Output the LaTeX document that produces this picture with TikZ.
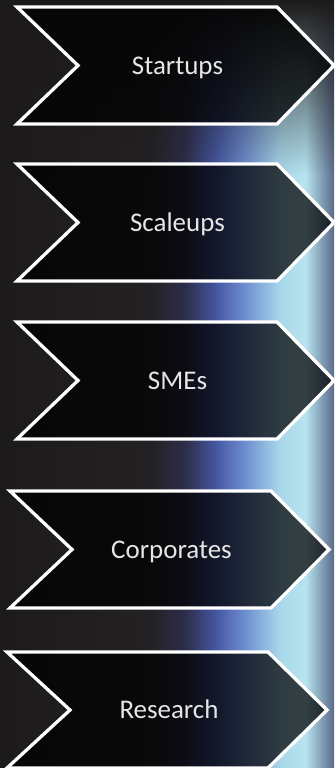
\documentclass[tikz,border=0pt]{standalone}
\usepackage{fontspec}
\setmainfont{Carlito}
\usepackage{tikz}
\usetikzlibrary{fadings}
\definecolor{bgdark}{HTML}{1C1A1A}
\definecolor{bgmid}{HTML}{232123}
\definecolor{bgnavy}{HTML}{2C2E4A}
\definecolor{bgblue}{HTML}{4455A0}
\definecolor{bgsky}{HTML}{6F8FD0}
\definecolor{bgcyan}{HTML}{A8D8EA}
\definecolor{bgpale}{HTML}{B8E4F0}
\definecolor{bgslate}{HTML}{5A6A8A}
\definecolor{labelgray}{HTML}{E6E6E6}
\pgfdeclarehorizontalshading{bgshade}{100bp}{color(0bp)=(bgdark); color(25bp)=(bgdark); color(47.5bp)=(bgmid); color(52.7bp)=(bgnavy); color(57.2bp)=(bgblue); color(61.7bp)=(bgsky); color(66.9bp)=(bgcyan); color(70.7bp)=(bgpale); color(75bp)=(bgslate); color(100bp)=(bgslate)}
\tikzset{chevron/.style={draw=white,line width=2.8pt,fill=black,fill opacity=.72}}
\tikzset{chevlabel/.style={anchor=base,text=labelgray,font=\fontsize{23}{28}\selectfont}}

\begin{document}
\begin{tikzpicture}[x=0.03cm,y=-0.03cm]
    \useasboundingbox (0,0) rectangle (334,768);
    \shade[shading=bgshade] (0,0) rectangle (334,768);
    \fill[bgdark,path fading=south] (0,0) rectangle (334,175);
    % chevrons, top to bottom
    \draw[chevron] (17,7) -- ++(260,0) -- ++(57,58.5) -- ++(-57,58.5) -- ++(-260,0) -- ++(61,-58.5) -- cycle;
    \node[chevlabel] (startups) at (177.5,74.2) {Startups};
    \draw[chevron] (17,164) -- ++(260,0) -- ++(57,58.5) -- ++(-57,58.5) -- ++(-260,0) -- ++(61,-58.5) -- cycle;
    \node[chevlabel] (scaleups) at (177.5,231.2) {Scaleups};
    \draw[chevron] (17,322) -- ++(260,0) -- ++(57,58.5) -- ++(-57,58.5) -- ++(-260,0) -- ++(61,-58.5) -- cycle;
    \node[chevlabel] (smes) at (177.5,389.2) {SMEs};
    \draw[chevron] (10,491) -- ++(261,0) -- ++(58,58.5) -- ++(-58,58.5) -- ++(-261,0) -- ++(62,-58.5) -- cycle;
    \node[chevlabel] (corporates) at (171.5,558.2) {Corporates};
    \draw[chevron] (7,652) -- ++(261,0) -- ++(59,58) -- ++(-59,58) -- ++(-261,0) -- ++(63,-58) -- cycle;
    \node[chevlabel] (research) at (169,718.7) {Research};
  \end{tikzpicture}
\end{document}
